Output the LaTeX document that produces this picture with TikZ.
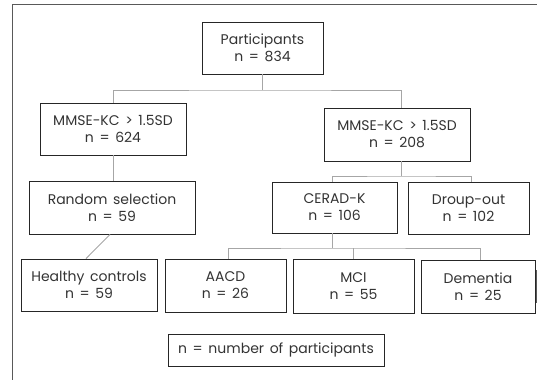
\documentclass[tikz,border=0pt]{standalone}
\usepackage{fontspec}
\setmainfont{Poppins}[WordSpace=1.5]
\begin{document}
\begin{tikzpicture}[x=1pt,y=-1pt,
  box/.style={draw=black!85, line width=0.9pt, align=center, inner sep=0pt,
    font=\fontsize{14}{17}\selectfont, text=black!80},
  conn/.style={draw=black!35, line width=1pt},
  frame/.style={draw=black!65, line width=1pt}]
\useasboundingbox (0,0) rectangle (537,380);
\draw[frame] (537,4.5) -- (12,4.5) -- (12,380);
\draw[frame] (536.5,270) -- (536.5,303);
\node[box, minimum width=121pt, minimum height=52pt] (part) at (262.5,48) {Participants\\n = 834};
\node[box, minimum width=146pt, minimum height=52pt] (mmsea) at (113,129) {MMSE-KC > 1.5SD\\n = 624};
\node[box, minimum width=146pt, minimum height=53pt] (mmseb) at (397,134.5) {MMSE-KC > 1.5SD\\n = 208};
\node[box, minimum width=166pt, minimum height=53pt] (rand) at (112,207.5) {Random selection\\n = 59};
\node[box, minimum width=125pt, minimum height=51pt] (cerad) at (334.5,207.5) {CERAD-K\\n = 106};
\node[box, minimum width=121pt, minimum height=52pt] (drop) at (468.5,208) {Droup-out\\n = 102};
\node[box, minimum width=136pt, minimum height=52pt] (healthy) at (89,285) {Healthy controls\\n = 59};
\node[box, minimum width=121pt, minimum height=53pt] (aacd) at (225.5,285.5) {AACD\\n = 26};
\node[box, minimum width=121pt, minimum height=54pt] (mci) at (353.5,286) {MCI\\n = 55};
\node[box, minimum width=114pt, minimum height=53pt] (dem) at (478,286.5) {Dementia\\n = 25};
\node[box, minimum width=216pt, minimum height=32pt] (legend) at (276,350) {n = number of participants};
% connectors
\coordinate (b1) at (262.5,90);
\draw[conn] (part.south) -- (b1);
\draw[conn] (mmsea.north) |- (b1) -| ([xshift=4pt]mmseb.north);
\draw[conn] (mmsea.south) -- (mmsea.south |- rand.north);
\draw[conn] ([xshift=-2pt]rand.south) -- ([xshift=-3pt]healthy.north);
\coordinate (b2) at (401,176);
\draw[conn] ([xshift=4pt]mmseb.south) -- (b2);
\draw[conn] ([xshift=-2.5pt]cerad.north) |- (b2) -| ([xshift=2.5pt]drop.north);
\coordinate (b3) at (332,248);
\draw[conn] ([xshift=-2.5pt]cerad.south) -- (b3);
\draw[conn] ([xshift=2.5pt]aacd.north) |- (b3) -| ([xshift=2pt]dem.north);
\draw[conn] (mci.north) -- (mci.north |- b3);
\end{tikzpicture}
\end{document}
